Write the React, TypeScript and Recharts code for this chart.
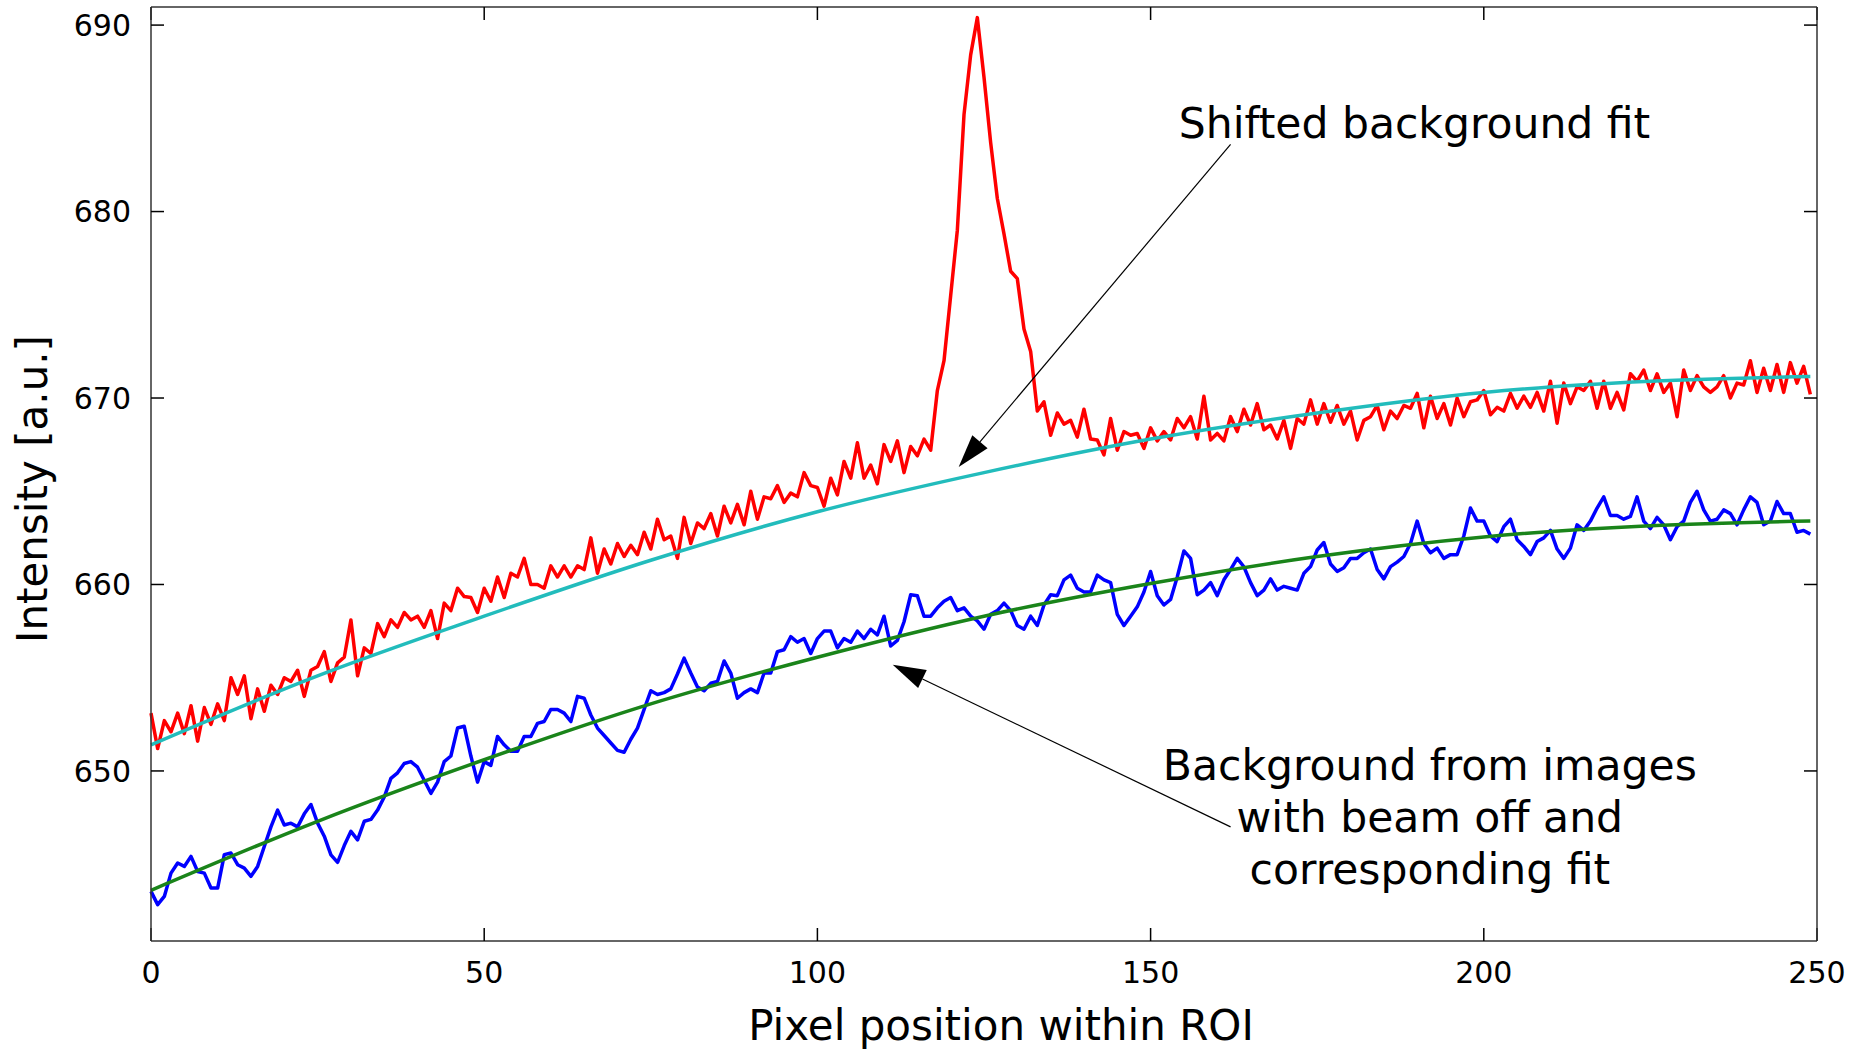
import { LineChart, Line, XAxis, YAxis, ReferenceLine, ReferenceDot } from 'recharts';

// pixel index along the ROI
const pixels = Array.from({ length: 250 }, (_, i) => i);

// measured profile with the beam on (red)
const beamOn = [
  653.1, 651.2, 652.7, 652.1, 653.1, 652.0, 653.5, 651.6, 653.4, 652.5,
  653.6, 652.7, 655.0, 654.1, 655.1, 652.8, 654.4, 653.2, 654.6, 654.1,
  655.0, 654.8, 655.4, 654.0, 655.4, 655.6, 656.4, 654.8, 655.8, 656.1,
  658.1, 655.1, 656.6, 656.3, 657.9, 657.2, 658.1, 657.7, 658.5, 658.1,
  658.3, 657.7, 658.6, 657.1, 659.0, 658.6, 659.8, 659.35, 659.3, 658.5,
  659.8, 659.1, 660.4, 659.3, 660.6, 660.4, 661.4, 660.0, 660.0, 659.8,
  661.0, 660.4, 661.0, 660.4, 661.0, 660.8, 662.5, 660.6, 661.9, 661.1,
  662.2, 661.5, 662.1, 661.6, 662.8, 661.9, 663.5, 662.4, 662.6, 661.4,
  663.6, 662.2, 663.3, 663.0, 663.8, 662.6, 664.2, 663.3, 664.3, 663.2,
  665.0, 663.5, 664.7, 664.6, 665.3, 664.4, 664.9, 664.7, 666.0, 665.3,
  665.2, 664.2, 665.7, 664.8, 666.6, 665.7, 667.6, 665.7, 666.4, 665.4,
  667.5, 666.6, 667.7, 666.0, 667.4, 666.9, 667.8, 667.2, 670.4, 672.0,
  675.5, 679.0, 685.2, 688.4, 690.4, 687.2, 683.7, 680.7, 678.8, 676.8,
  676.4, 673.7, 672.5, 669.3, 669.8, 668.0, 669.2, 668.6, 668.8, 667.9,
  669.4, 667.8, 667.75, 666.95, 668.9, 667.2, 668.2, 668.0, 668.1, 667.3,
  668.4, 667.7, 668.2, 667.75, 668.9, 668.4, 669.0, 667.8, 670.1, 667.75,
  668.1, 667.7, 669.0, 668.2, 669.4, 668.55, 669.7, 668.3, 668.55, 667.8,
  668.8, 667.3, 668.9, 668.6, 669.9, 668.6, 669.7, 668.7, 669.6, 668.6,
  669.3, 667.75, 668.8, 669.0, 669.6, 668.3, 669.3, 668.9, 669.6, 669.45,
  670.25, 668.4, 670.1, 668.9, 669.7, 668.55, 670.0, 669.0, 669.8, 669.9,
  670.4, 669.1, 669.5, 669.3, 670.25, 669.45, 670.1, 669.5, 670.3, 669.3,
  670.9, 668.65, 670.8, 669.7, 670.6, 670.4, 670.9, 669.45, 670.9, 669.45,
  670.3, 669.36, 671.3, 670.9, 671.5, 670.4, 671.3, 670.3, 670.8, 669.0,
  671.5, 670.4, 671.2, 670.6, 670.3, 670.6, 671.2, 670.0, 670.8, 670.7,
  672.0, 670.3, 671.6, 670.4, 671.8, 670.3, 671.9, 670.8, 671.7, 670.2,
];

// background from images with the beam off (blue)
const beamOff = [
  643.54, 642.83, 643.27, 644.52, 645.06, 644.88, 645.42, 644.61, 644.52, 643.72,
  643.72, 645.51, 645.6, 644.97, 644.79, 644.35, 644.88, 645.95, 647.0, 647.9,
  647.1, 647.2, 647.0, 647.7, 648.2, 647.2, 646.5, 645.5, 645.1, 646.0,
  646.76, 646.3, 647.3, 647.4, 647.9, 648.6, 649.6, 649.9, 650.4, 650.5,
  650.2, 649.5, 648.8, 649.4, 650.5, 650.8, 652.3, 652.4, 650.8, 649.4,
  650.5, 650.3, 651.85, 651.4, 651.05, 651.05, 651.85, 651.85, 652.55, 652.65,
  653.3, 653.3, 653.1, 652.65, 654.0, 653.9, 653.0, 652.3, 651.9, 651.5,
  651.1, 651.0, 651.7, 652.3, 653.3, 654.3, 654.1, 654.2, 654.4, 655.2,
  656.05, 655.25, 654.5, 654.3, 654.7, 654.8, 655.9, 655.25, 653.9, 654.2,
  654.4, 654.2, 655.25, 655.25, 656.4, 656.5, 657.2, 656.9, 657.1, 656.3,
  657.1, 657.5, 657.5, 656.6, 657.1, 656.9, 657.5, 657.1, 657.6, 657.3,
  658.3, 656.7, 657.0, 658.0, 659.45, 659.4, 658.3, 658.3, 658.75, 659.1,
  659.3, 658.6, 658.75, 658.3, 658.05, 657.6, 658.4, 658.6, 659.0, 658.6,
  657.8, 657.6, 658.3, 657.8, 658.9, 659.45, 659.4, 660.25, 660.5, 659.8,
  659.6, 659.6, 660.5, 660.25, 660.1, 658.4, 657.8, 658.3, 658.8, 659.6,
  660.7, 659.4, 658.9, 659.2, 660.4, 661.8, 661.4, 659.45, 659.7, 660.1,
  659.4, 660.25, 660.8, 661.4, 660.95, 660.1, 659.4, 659.7, 660.3, 659.7,
  659.9, 659.8, 659.7, 660.6, 660.96, 661.85, 662.25, 661.1, 660.7, 660.9,
  661.4, 661.4, 661.7, 661.9, 660.8, 660.3, 660.96, 661.2, 661.5, 662.2,
  663.4, 662.2, 661.7, 661.95, 661.4, 661.6, 661.6, 662.6, 664.1, 663.4,
  663.4, 662.6, 662.3, 663.1, 663.5, 662.4, 662.04, 661.6, 662.3, 662.5,
  662.9, 661.9, 661.4, 661.95, 663.2, 662.9, 663.4, 664.1, 664.7, 663.7,
  663.7, 663.5, 663.65, 664.7, 663.4, 663.0, 663.6, 663.2, 662.4, 663.1,
  663.4, 664.4, 665.0, 664.0, 663.4, 663.5, 664.0, 663.8, 663.2, 664.0,
  664.7, 664.4, 663.2, 663.4, 664.45, 663.8, 663.8, 662.8, 662.9, 662.7,
];

// fitted curves, read at a few pixel positions
const fitPixels = [0, 25, 50, 75, 100, 125, 150, 175, 200, 225, 249];
const shiftedFit = [651.4, 655.1, 658.3, 661.3, 663.9, 666.0, 667.8, 669.2, 670.3, 670.9, 671.15];
const backgroundFit = [643.6, 647.3, 650.6, 653.6, 656.1, 658.3, 660.05, 661.5, 662.55, 663.15, 663.4];

const xTicks = [0, 50, 100, 150, 200, 250];
const yTicks = [650, 660, 670, 680, 690];

const signalRows = pixels.map((x, i) => ({ x, on: beamOn[i], off: beamOff[i] }));
const fitRows = fitPixels.map((x, i) => ({ x, shifted: shiftedFit[i], background: backgroundFit[i] }));

const FONT = 'DejaVu Sans, Verdana, sans-serif';

// line with a filled arrow head at its end (x2, y2)
const Arrow = (props: any) => {
  const { x1, y1, x2, y2 } = props;
  const dx = x2 - x1;
  const dy = y2 - y1;
  const len = Math.hypot(dx, dy) || 1;
  const ux = dx / len;
  const uy = dy / len;
  const headLen = 33;
  const headHalf = 10;
  const bx = x2 - ux * headLen;
  const by = y2 - uy * headLen;
  const pts = `${x2},${y2} ${bx - uy * headHalf},${by + ux * headHalf} ${bx + uy * headHalf},${by - ux * headHalf}`;
  return (
    <g>
      <line x1={x1} y1={y1} x2={bx} y2={by} stroke="#000" strokeWidth={1.2} />
      <polygon points={pts} fill="#000" />
    </g>
  );
};

const noteText = (lines: string[]) => (props: any) => (
  <text x={props.cx} y={props.cy} textAnchor="middle" fontSize={42.5} fontFamily={FONT} fill="#000">
    {lines.map((t, i) => (
      <tspan key={i} x={props.cx} dy={i === 0 ? 0 : 52}>
        {t}
      </tspan>
    ))}
  </text>
);

const axisLine = { stroke: '#333', strokeWidth: 1.5 };
const tickLine = { stroke: '#000', strokeWidth: 1.5 };
const tickFont = { fontSize: 30, fill: '#000', fontFamily: FONT };

export default function App() {
  return (
    <div style={{ position: 'absolute', left: 0, top: 0, background: '#fff', fontFamily: FONT }}>
      <LineChart width={1860} height={1051} data={signalRows} margin={{ top: 0, right: 0, bottom: 0, left: 0 }}>
        <XAxis
          xAxisId="b"
          dataKey="x"
          type="number"
          domain={[0, 250]}
          ticks={xTicks}
          interval={0}
          height={110}
          tickSize={-13}
          tickMargin={34}
          axisLine={axisLine}
          tickLine={tickLine}
          tick={tickFont}
        />
        <XAxis
          xAxisId="t"
          orientation="top"
          dataKey="x"
          type="number"
          domain={[0, 250]}
          ticks={xTicks}
          interval={0}
          height={7}
          tickSize={-13}
          axisLine={axisLine}
          tickLine={tickLine}
          tickFormatter={() => ''}
        />
        <YAxis
          yAxisId="l"
          type="number"
          domain={[640.88, 690.97]}
          allowDataOverflow
          ticks={yTicks}
          interval={0}
          width={151}
          tickSize={-13}
          tickMargin={33}
          axisLine={axisLine}
          tickLine={tickLine}
          tick={tickFont}
        />
        <YAxis
          yAxisId="r"
          orientation="right"
          type="number"
          domain={[640.88, 690.97]}
          allowDataOverflow
          ticks={yTicks}
          interval={0}
          width={43}
          tickSize={-13}
          axisLine={axisLine}
          tickLine={tickLine}
          tickFormatter={() => ''}
        />

        <Line xAxisId="b" yAxisId="l" type="linear" dataKey="on" stroke="#ff0000" strokeWidth={3.5} dot={false} isAnimationActive={false} strokeLinejoin="round" />
        <Line xAxisId="b" yAxisId="l" type="linear" dataKey="off" stroke="#0000ff" strokeWidth={3.5} dot={false} isAnimationActive={false} strokeLinejoin="round" />
        <Line xAxisId="b" yAxisId="l" data={fitRows} type="monotone" dataKey="shifted" stroke="#22bcbc" strokeWidth={3.5} dot={false} isAnimationActive={false} />
        <Line xAxisId="b" yAxisId="l" data={fitRows} type="monotone" dataKey="background" stroke="#1a841a" strokeWidth={3.5} dot={false} isAnimationActive={false} />

        <ReferenceLine xAxisId="b" yAxisId="l" segment={[{ x: 162, y: 683.6 }, { x: 121.2, y: 666.3 }]} shape={Arrow} />
        <ReferenceLine xAxisId="b" yAxisId="l" segment={[{ x: 162, y: 647.0 }, { x: 111.3, y: 655.7 }]} shape={Arrow} />

        <ReferenceDot xAxisId="b" yAxisId="l" x={189.6} y={683.95} r={0} shape={noteText(['Shifted background fit'])} />
        <ReferenceDot
          xAxisId="b"
          yAxisId="l"
          x={191.9}
          y={649.52}
          r={0}
          shape={noteText(['Background from images', 'with beam off and', 'corresponding fit'])}
        />

        <text x={1001} y={1040} textAnchor="middle" fontSize={42} fontFamily={FONT} fill="#000">
          Pixel position within ROI
        </text>
        <text x={47} y={489} transform="rotate(-90, 47, 489)" textAnchor="middle" fontSize={42} fontFamily={FONT} fill="#000">
          Intensity [a.u.]
        </text>
      </LineChart>
    </div>
  );
}
